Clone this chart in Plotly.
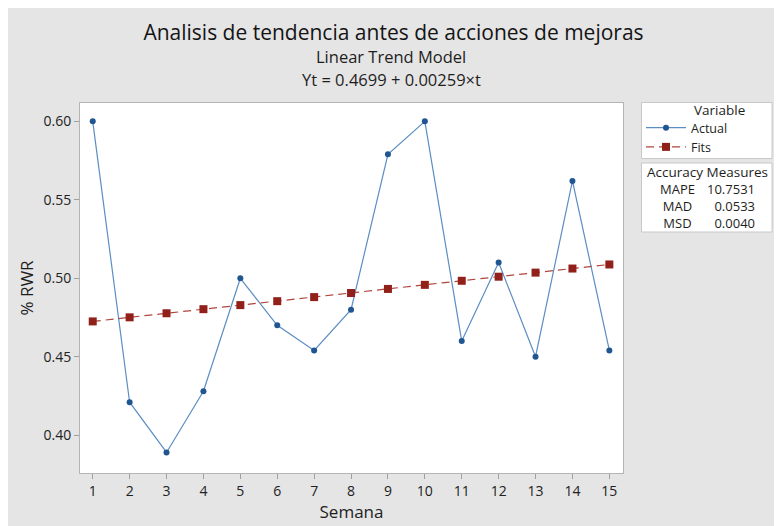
import plotly.graph_objects as go

# ---- data ----
semana = [1, 2, 3, 4, 5, 6, 7, 8, 9, 10, 11, 12, 13, 14, 15]
actual = [0.600, 0.421, 0.389, 0.428, 0.500, 0.470, 0.454, 0.480, 0.579, 0.600,
          0.460, 0.510, 0.450, 0.562, 0.454]
fits = [0.4725, 0.4751, 0.4777, 0.4803, 0.4829, 0.4854, 0.4880, 0.4906, 0.4932,
        0.4958, 0.4984, 0.5010, 0.5036, 0.5062, 0.5088]
y_ticks = [0.40, 0.45, 0.50, 0.55, 0.60]
y_tick_labels = ["0.40", "0.45", "0.50", "0.55", "0.60"]
acc_names = ["MAPE", "MAD", "MSD"]
acc_values = ["10.7531", "0.0533", "0.0040"]

# page body has an 8px margin: the figure is placed at (8, 8) on screen
OFF = 8
W, H = 782 - OFF, 526 - OFF
# plot area in screen pixels: left 80.5, right 622.7, top 103.3, bottom 472.7
L, T = 72, 95
R = W - (623 - OFF)
B = H - (473 - OFF)
PW, PH = W - L - R, H - T - B


def px(x):  # screen x -> paper
    return (x - OFF - L) / PW


def py(y):  # screen y -> paper
    return (H - B - (y - OFF)) / PH


FONT = "Open Sans"
GRAY_BG = "#e5e5e5"
TXT = "#1e1e1e"

fig = go.Figure()
fig.add_trace(go.Scatter(
    x=semana, y=actual, name="Actual", mode="lines+markers",
    line=dict(color="#5b8ec4", width=1.2),
    marker=dict(symbol="circle", size=6, color="#1f5591"),
))
fig.add_trace(go.Scatter(
    x=semana, y=fits, name="Fits", mode="lines+markers",
    line=dict(color="#b0453c", width=1.2, dash="8px,5px"),
    marker=dict(symbol="square", size=8, color="#92201a"),
))

shapes = [
    dict(type="rect", xref="paper", yref="paper", x0=px(779), x1=px(790), y0=py(0), y1=py(540),
         fillcolor="white", line=dict(width=0), layer="below"),
    # legend box
    dict(type="rect", xref="paper", yref="paper", x0=px(641.5), x1=px(772), y0=py(102.5), y1=py(158.5),
         fillcolor="white", line=dict(color="#c8c8c8", width=1), layer="below"),
    # accuracy box
    dict(type="rect", xref="paper", yref="paper", x0=px(641.5), x1=px(772), y0=py(163), y1=py(232),
         fillcolor="white", line=dict(color="#c8c8c8", width=1), layer="below"),
]

annotations = [
    dict(text="Linear Trend Model", x=px(391), y=py(57), xref="paper", yref="paper",
         showarrow=False, font=dict(family=FONT, size=16.5, color=TXT), xanchor="center", yanchor="middle"),
    dict(text="Yt = 0.4699 + 0.00259×t", x=px(391), y=py(79), xref="paper", yref="paper",
         showarrow=False, font=dict(family=FONT, size=16.5, color=TXT), xanchor="center", yanchor="middle"),
    dict(text="Variable", x=px(692), y=py(110), xref="paper", yref="paper",
         showarrow=False, font=dict(family=FONT, size=13.5, color=TXT), xanchor="left", yanchor="middle"),
    dict(text="Accuracy Measures", x=px(707), y=py(172), xref="paper", yref="paper",
         showarrow=False, font=dict(family=FONT, size=13.5, color=TXT), xanchor="center", yanchor="middle"),
    dict(text="<br>".join(acc_names), x=px(677), y=py(206), xref="paper", yref="paper",
         showarrow=False, align="center", font=dict(family=FONT, size=13, color=TXT),
         xanchor="center", yanchor="middle"),
    dict(text="<br>".join(acc_values), x=px(757), y=py(206), xref="paper", yref="paper",
         showarrow=False, align="right", font=dict(family=FONT, size=13, color=TXT),
         xanchor="right", yanchor="middle"),
]

fig.update_layout(
    width=W, height=H,
    margin=dict(l=L, r=R, t=T, b=B, pad=0),
    paper_bgcolor=GRAY_BG, plot_bgcolor="white",
    font=dict(family=FONT, color=TXT),
    title=dict(text="Analisis de tendencia antes de acciones de mejoras",
               x=px(393.5), xref="paper", xanchor="center",
               y=1 - (33 - OFF) / H, yref="container", yanchor="middle",
               font=dict(family=FONT, size=21, color="#141414")),
    xaxis=dict(range=[0.655, 15.37], tickmode="array", tickvals=semana,
               ticks="outside", ticklen=5, tickcolor="#a0a0a0",
               showline=True, mirror=True, linecolor="#b4b4b4", linewidth=1,
               showgrid=False, zeroline=False,
               tickfont=dict(family=FONT, size=14, color="#222222"),
               title=dict(text="Semana", font=dict(family=FONT, size=17, color=TXT), standoff=3)),
    yaxis=dict(range=[0.3759, 0.6117], tickmode="array", tickvals=y_ticks, ticktext=y_tick_labels,
               ticks="outside", ticklen=5, tickcolor="#a0a0a0",
               showline=True, mirror=True, linecolor="#b4b4b4", linewidth=1,
               showgrid=False, zeroline=False,
               tickfont=dict(family=FONT, size=14, color="#222222"),
               title=dict(text="% RWR", font=dict(family=FONT, size=17, color=TXT), standoff=5)),
    legend=dict(x=px(641), y=py(113), xanchor="left", yanchor="top",
                bgcolor="rgba(0,0,0,0)", borderwidth=0,
                font=dict(family=FONT, size=12.5, color=TXT),
                itemwidth=40, tracegroupgap=0),
    shapes=shapes,
    annotations=annotations,
)

fig.write_html("out.html")
